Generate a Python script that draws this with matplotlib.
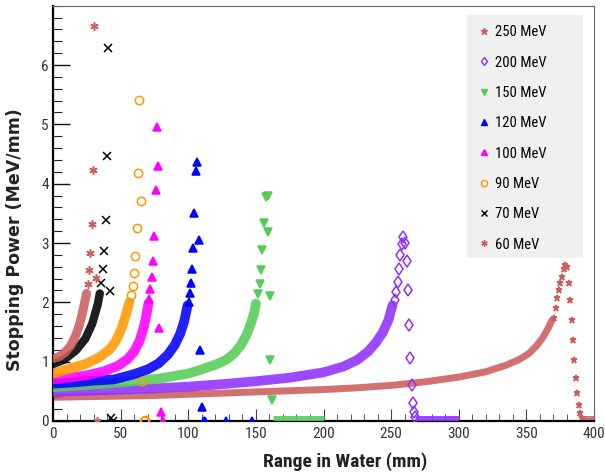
#!/usr/bin/env python3
"""Bragg curves in water for several proton energies (stopping power vs range)."""
import matplotlib
matplotlib.use("Agg")
import matplotlib.pyplot as plt
from matplotlib import font_manager
from matplotlib.lines import Line2D
from matplotlib.patches import Rectangle
from matplotlib.ticker import MultipleLocator

# ---- data (mm, MeV/mm) ----
# dense part of each curve (overlapping markers -> band), then the sparse peak points
e250_dense_x = [0, 25, 50, 75, 100, 125, 150, 175, 200, 225, 250, 275, 300, 320, 335, 345, 352, 358, 362, 366, 369]
e250_dense_y = [0.40, 0.41, 0.42, 0.43, 0.45, 0.47, 0.49, 0.51, 0.53, 0.56, 0.60, 0.66, 0.74, 0.83, 0.94, 1.04, 1.14, 1.28, 1.40, 1.56, 1.70]
e250_peak_x = [370.3, 371.6, 372.8, 374.0, 375.2, 376.5, 377.7, 378.9, 380.1, 381.4, 382.6, 383.6, 384.3, 385.5, 386.5, 387.5, 388.7, 389.9, 391.0]
e250_peak_y = [1.73, 1.90, 2.07, 2.21, 2.32, 2.43, 2.57, 2.63, 2.60, 2.32, 2.04, 1.70, 1.37, 1.03, 0.72, 0.47, 0.27, 0.13, 0.05]
e250_tail_x = [391, 400]
e250_tail_y = [0.03, 0.03]

e200_dense_x = [0, 25, 50, 75, 100, 125, 150, 175, 200, 215, 225, 233, 239, 244, 248, 251]
e200_dense_y = [0.49, 0.51, 0.53, 0.55, 0.58, 0.62, 0.67, 0.73, 0.82, 0.92, 1.03, 1.17, 1.33, 1.50, 1.70, 1.95]
e200_peak_x = [252.7, 253.9, 255.1, 255.9, 256.9, 258.1, 259.1, 260.5, 261.5, 262.5, 263.2, 264.0, 265.2, 266.2, 266.9, 267.9]
e200_peak_y = [2.04, 2.18, 2.35, 2.56, 2.80, 2.99, 3.10, 3.00, 2.69, 2.21, 1.62, 1.06, 0.61, 0.30, 0.16, 0.07]
e200_tail_x = [268, 300]
e200_tail_y = [0.03, 0.03]

e150_dense_x = [0, 20, 40, 60, 80, 100, 110, 120, 128, 134, 139, 143, 146, 148.5, 150]
e150_dense_y = [0.57, 0.60, 0.63, 0.67, 0.72, 0.80, 0.87, 0.95, 1.03, 1.14, 1.28, 1.45, 1.62, 1.80, 1.98]
e150_peak_x = [151.7, 152.9, 153.7, 154.7, 155.9, 157.6, 158.6, 159.1, 160.1, 160.8, 162.0]
e150_peak_y = [2.14, 2.31, 2.55, 2.88, 3.33, 3.77, 3.79, 3.19, 2.10, 1.03, 0.35]
e150_tail_x = [163, 200]
e150_tail_y = [0.03, 0.03]

e120_dense_x = [0, 15, 30, 45, 60, 70, 78, 85, 90, 94, 97, 99.5]
e120_dense_y = [0.63, 0.65, 0.68, 0.70, 0.79, 0.87, 0.97, 1.12, 1.28, 1.47, 1.68, 1.95]
e120_peak_x = [100.2, 101.0, 102.0, 102.7, 103.7, 104.6, 105.9, 106.8, 107.9, 109.0, 110.1, 111.5, 112.3, 127.7, 146.8]
e120_peak_y = [2.01, 2.15, 2.32, 2.56, 2.92, 3.50, 4.22, 4.37, 3.05, 1.20, 0.24, 0.0, 0.0, 0.0, 0.0]

e100_dense_x = [0, 12, 25, 38, 48, 55, 60, 64, 67, 69, 70.5]
e100_dense_y = [0.70, 0.73, 0.77, 0.84, 0.93, 1.04, 1.17, 1.35, 1.57, 1.78, 1.98]
e100_peak_x = [71.3, 72.0, 73.0, 74.0, 75.0, 76.0, 76.7, 78.0, 78.7, 79.6, 81.1]
e100_peak_y = [2.06, 2.22, 2.42, 2.69, 3.11, 3.89, 4.95, 4.29, 1.56, 0.16, 0.0]

e90_dense_x = [0, 12, 24, 34, 42, 46, 50, 53, 55, 56.5]
e90_dense_y = [0.80, 0.88, 0.96, 1.07, 1.21, 1.33, 1.52, 1.72, 1.88, 2.00]
e90_peak_x = [57.8, 58.8, 59.8, 60.8, 61.8, 62.7, 63.5, 64.7, 65.7, 67.2, 68.0]
e90_peak_y = [2.12, 2.28, 2.49, 2.78, 3.25, 4.18, 5.41, 3.71, 0.67, 0.0, 0.02]

e70_dense_x = [0, 8, 17, 24, 29, 33, 34.6]
e70_dense_y = [0.96, 1.03, 1.19, 1.39, 1.64, 1.96, 2.15]
e70_peak_x = [35.8, 36.8, 37.7, 39.0, 39.7, 40.7, 41.9, 42.6, 44.0]
e70_peak_y = [2.32, 2.56, 2.87, 3.38, 4.46, 6.28, 2.19, 0.05, 0.0]

e60_dense_x = [0, 5, 9, 12.5, 15, 17.4, 19.5, 21.1, 22.5, 23.5, 24.8]
e60_dense_y = [1.05, 1.09, 1.16, 1.25, 1.35, 1.48, 1.62, 1.76, 1.90, 2.01, 2.15]
e60_peak_x = [25.7, 26.7, 27.7, 28.7, 29.7, 30.4, 31.6, 32.6]
e60_peak_y = [2.31, 2.55, 2.84, 3.32, 4.23, 6.66, 2.41, 0.0]

labels = ["250 MeV", "200 MeV", "150 MeV", "120 MeV", "100 MeV", "90 MeV", "70 MeV", "60 MeV"]

xticks = [0, 50, 100, 150, 200, 250, 300, 350, 400]
yticks = [0, 1, 2, 3, 4, 5, 6]


def _pick(names):
    for n in names:
        try:
            font_manager.findfont(n, fallback_to_default=False)
            return n
        except ValueError:
            continue
    return "DejaVu Sans"


NARROW = _pick(["Liberation Sans Narrow", "Roboto Condensed", "Liberation Sans"])
scale = 1.0 if "Narrow" in NARROW or "Condensed" in NARROW else 0.86

# style per series: color, marker, filled, band width (pt), marker size
styles = [
    ("#cd5c5c", "*", True, 5.0, 5),
    ("#9030ff", "d", False, 7.0, 6),
    ("#55cc55", "v", True, 7.0, 6),
    ("#0000ff", "^", True, 7.0, 6),
    ("#ff00ff", "^", True, 7.0, 6),
    ("#ff9900", "o", False, 7.0, 6),
    ("#000000", "x", False, 6.0, 6),
    ("#cd5c5c", (6, 2, 0), False, 6.5, 6),
]

series = [
    (e250_dense_x, e250_dense_y, e250_peak_x, e250_peak_y, e250_tail_x, e250_tail_y),
    (e200_dense_x, e200_dense_y, e200_peak_x, e200_peak_y, e200_tail_x, e200_tail_y),
    (e150_dense_x, e150_dense_y, e150_peak_x, e150_peak_y, e150_tail_x, e150_tail_y),
    (e120_dense_x, e120_dense_y, e120_peak_x, e120_peak_y, None, None),
    (e100_dense_x, e100_dense_y, e100_peak_x, e100_peak_y, None, None),
    (e90_dense_x, e90_dense_y, e90_peak_x, e90_peak_y, None, None),
    (e70_dense_x, e70_dense_y, e70_peak_x, e70_peak_y, None, None),
    (e60_dense_x, e60_dense_y, e60_peak_x, e60_peak_y, None, None),
]

fig = plt.figure(figsize=(6.05, 4.74), dpi=100)
ax = fig.add_axes([53 / 605, 53 / 474, 541 / 605, 415.3 / 474])

handles = []
for i, ((dx, dy, px, py, tx, ty), (col, mk, filled, bw, ms)) in enumerate(zip(series, styles)):
    z = 2 + i
    ax.plot(dx, dy, "-", color=col, lw=bw, alpha=0.88, solid_capstyle="round", zorder=z)
    if tx is not None:
        ax.plot(tx, ty, "-", color=col, lw=5, alpha=0.88, solid_capstyle="butt", zorder=z)
    face = col if filled else "none"
    ax.plot(px, py, ls="none", marker=mk, ms=ms, mfc=face, mec=col, mew=1.1, zorder=z + 0.5)
    handles.append(Line2D([], [], ls="none", marker=mk, ms=4.5, mfc=face, mec=col, mew=1.0))

ax.set_xlim(0, 400)
ax.set_ylim(0, 7)
ax.set_xticks(xticks)
ax.set_yticks(yticks)
ax.xaxis.set_minor_locator(MultipleLocator(10))
ax.yaxis.set_minor_locator(MultipleLocator(0.2))
ax.tick_params(axis="x", which="major", direction="in", length=9, width=0.8, color="#444", pad=4)
ax.tick_params(axis="x", which="minor", direction="in", length=5, width=0.7, color="#555")
ax.tick_params(axis="y", which="major", direction="in", length=12, width=1.0, color="#111", pad=3)
ax.tick_params(axis="y", which="minor", direction="in", length=6.5, width=0.8, color="#222")
for lab in ax.get_xticklabels() + ax.get_yticklabels():
    lab.set_fontfamily(NARROW)
    lab.set_fontsize(11 * scale)
    lab.set_color("#333")

for s in ("left", "bottom"):
    ax.spines[s].set_linewidth(1.6)
    ax.spines[s].set_color("black")
for s in ("top", "right"):
    ax.spines[s].set_linewidth(0.8)
    ax.spines[s].set_color("#666")

fig.text(15 / 605, 0.494, "Stopping Power (MeV/mm)", rotation=90, ha="center", va="center",
         fontsize=12.5, fontweight="bold", family="DejaVu Sans", color="#222")
fig.text(345 / 605, 1 - 462 / 474, "Range in Water (mm)", ha="center", va="center",
         fontsize=14 * scale, fontweight="bold", family=NARROW, color="#222")

# legend box
ax.add_patch(Rectangle((0.765, 0.392), 0.214, 0.5856, transform=ax.transAxes,
                       facecolor="#f0f0f0", edgecolor="none", zorder=20))
leg = ax.legend(handles, labels, loc="upper left", bbox_to_anchor=(0.765, 0.9776),
                frameon=False, prop={"family": NARROW, "size": 10.5 * scale},
                handlelength=1.0, handletextpad=0.2, labelspacing=1.12, borderpad=0.7,
                borderaxespad=0)
leg.set_zorder(21)

fig.savefig("out.png", dpi=100)
print("wrote out.png")
